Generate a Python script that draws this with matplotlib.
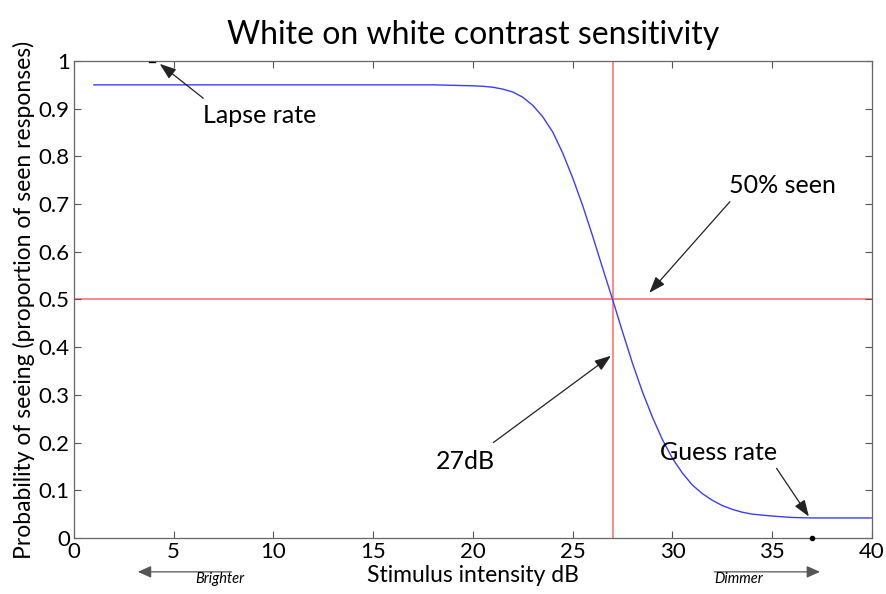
import numpy as np
import matplotlib
matplotlib.use("Agg")
import matplotlib.pyplot as plt

plt.rcParams["font.family"] = ["Lato", "DejaVu Sans"]

# psychometric curve, read point by point (dB, probability seen)
intensity_db = [1, 5, 10, 15, 18, 19, 20, 20.5, 21, 21.5, 22, 22.5, 23, 23.5, 24,
                24.5, 25, 25.5, 26, 26.5, 27, 27.5, 28, 28.5, 29, 29.5, 30, 30.5,
                31, 31.5, 32, 32.5, 33, 33.5, 34, 35, 36, 37, 38, 40]
p_seen = [0.950, 0.950, 0.950, 0.950, 0.950, 0.949, 0.948, 0.947, 0.945, 0.941,
          0.935, 0.924, 0.907, 0.883, 0.851, 0.807, 0.755, 0.697, 0.633, 0.566,
          0.500, 0.432, 0.366, 0.306, 0.253, 0.206, 0.167, 0.136, 0.111, 0.093,
          0.079, 0.068, 0.060, 0.054, 0.050, 0.046, 0.043, 0.042, 0.042, 0.042]

threshold_db = 27
half_seen = 0.5

x_ticks = [0, 5, 10, 15, 20, 25, 30, 35, 40]
y_ticks = [0, 0.1, 0.2, 0.3, 0.4, 0.5, 0.6, 0.7, 0.8, 0.9, 1]
y_ticklabels = ["0", "0.1", "0.2", "0.3", "0.4", "0.5", "0.6", "0.7", "0.8", "0.9", "1"]

# (label, text centre, arrow tail, arrow head) in data units
notes = [
    ("Lapse rate", (9.3, 0.885), (6.48, 0.922), (4.3, 0.994)),
    ("50% seen", (35.5, 0.738), (32.88, 0.705), (28.84, 0.514)),
    ("27dB", (19.6, 0.161), (21.02, 0.200), (26.92, 0.382)),
    ("Guess rate", (32.3, 0.180), (35.22, 0.146), (36.84, 0.045)),
]

fig = plt.figure(figsize=(8.87, 5.94), dpi=100)
ax = fig.add_axes([0.0834, 0.0943, 0.8996, 0.803])

ax.axvline(threshold_db, color="#ff6a6a", lw=1.1, zorder=1)
ax.axhline(half_seen, color="#ff6a6a", lw=1.1, zorder=1)
ax.plot(intensity_db, p_seen, color="#3c3cff", lw=1.0, zorder=2)

# small end markers on the frame
ax.plot([3.75, 4.05], [0.998, 0.998], color="black", lw=1.0, clip_on=False, zorder=3)
ax.plot([37], [0.0], marker="o", ms=3, color="black", clip_on=False, zorder=3)

ax.set_xlim(0, 40)
ax.set_ylim(0, 1)
ax.set_xticks(x_ticks)
ax.set_xticklabels([str(t) for t in x_ticks])
ax.set_yticks(y_ticks)
ax.set_yticklabels(y_ticklabels)
ax.tick_params(direction="in", length=5, width=0.8, colors="#555555",
               labelcolor="black", labelsize=16, top=True, right=True, pad=3)
for s in ax.spines.values():
    s.set_color("#666666")
    s.set_linewidth(0.9)

ax.set_title("White on white contrast sensitivity", fontsize=23, pad=12)
ax.set_xlabel("Stimulus intensity dB", fontsize=16.5, labelpad=2)
ax.set_ylabel("Probability of seeing (proportion of seen responses)", fontsize=16.5, labelpad=3)

arrow = dict(arrowstyle="-|>,head_length=0.5,head_width=0.18", color="#222222", lw=0.9,
             mutation_scale=20, shrinkA=0, shrinkB=0)
for label, txt, tail, head in notes:
    ax.text(txt[0], txt[1], label, fontsize=18, ha="center", va="center")
    ax.annotate("", xy=head, xytext=tail, arrowprops=arrow)

# direction hints under the axis
hint = dict(arrowstyle="-|>,head_length=0.45,head_width=0.2", color="#555555", lw=0.9,
            mutation_scale=18, shrinkA=0, shrinkB=0)
ax.annotate("", xy=(3.2, -0.071), xytext=(7.9, -0.071), annotation_clip=False, arrowprops=hint)
ax.text(7.3, -0.086, "Brighter", fontsize=10.5, style="italic", ha="center", va="center",
        clip_on=False)
ax.annotate("", xy=(37.4, -0.071), xytext=(32.1, -0.071), annotation_clip=False, arrowprops=hint)
ax.text(33.3, -0.086, "Dimmer", fontsize=10.5, style="italic", ha="center", va="center",
        clip_on=False)

fig.savefig("out.png", dpi=100)
